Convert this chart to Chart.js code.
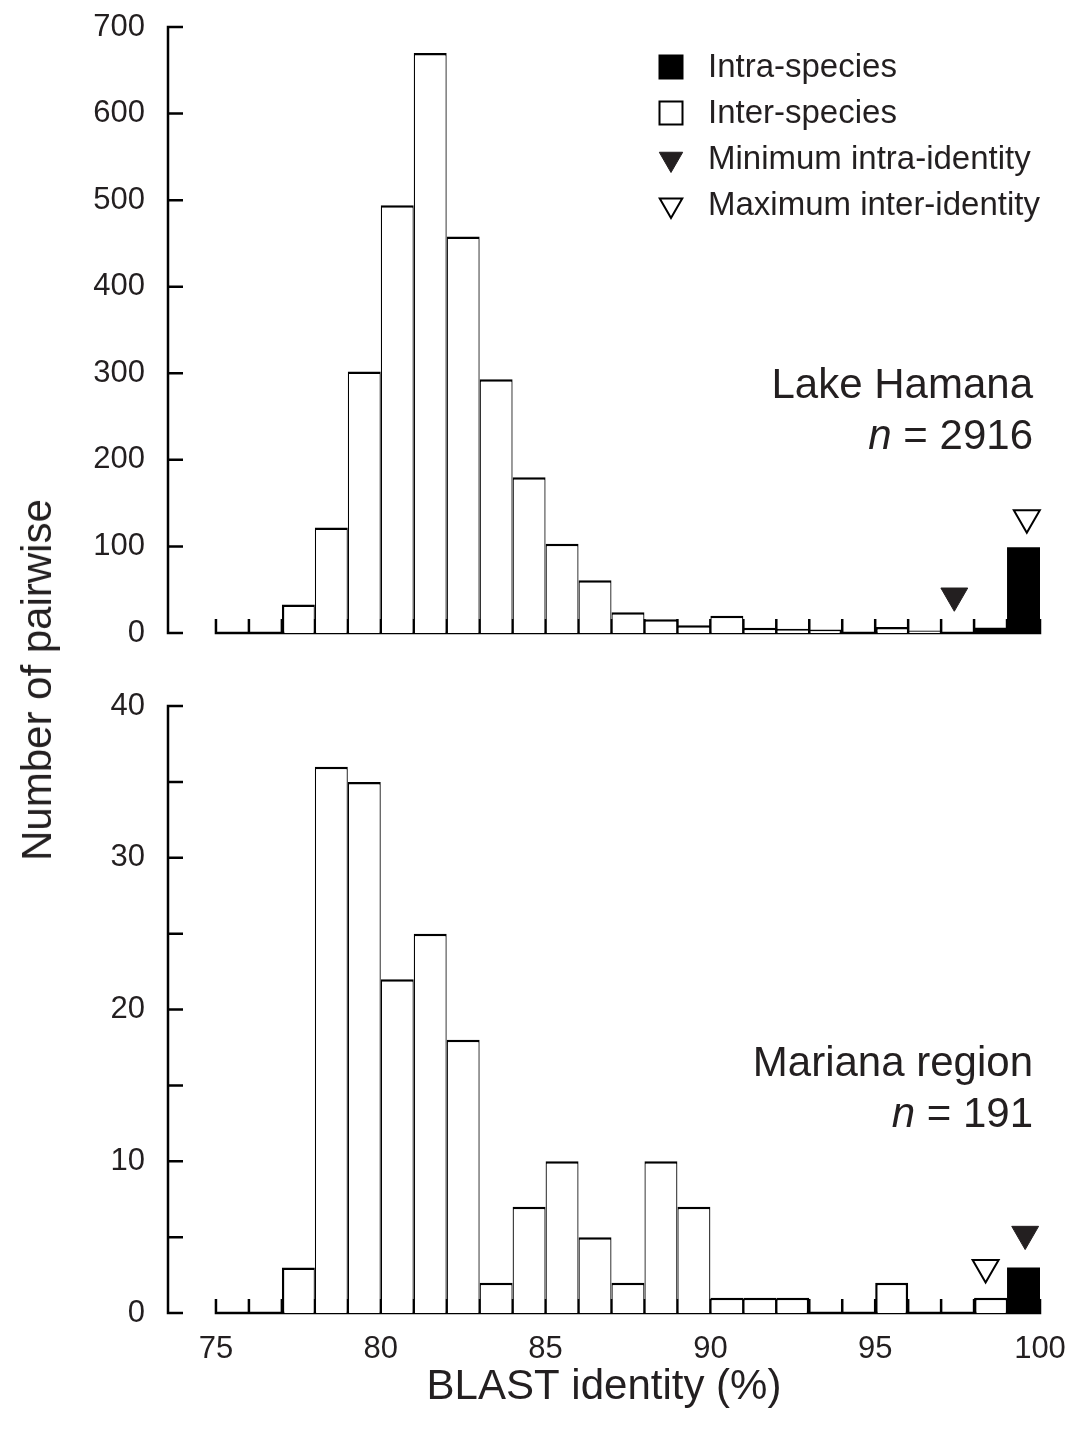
<!DOCTYPE html>
<html>
<head>
<meta charset="utf-8">
<title>BLAST identity histograms</title>
<script src="https://cdn.jsdelivr.net/npm/chart.js@4.4.1/dist/chart.umd.min.js"></script>
<style>
  html, body { margin: 0; padding: 0; background: #fff; }
  #wrap { position: relative; width: 1070px; height: 1439px; overflow: hidden; }
  .panel { position: absolute; left: 0; width: 1070px; }
  #top-panel { top: 0; height: 680px; }
  #bottom-panel { top: 680px; height: 759px; }
  #y-title {
    position: absolute; left: 37px; top: 680px;
    transform: translate(-50%, -50%) rotate(-90deg);
    font: 42px 'Liberation Sans', Arial, sans-serif; line-height: 1;
    color: #231f20; white-space: nowrap;
  }
</style>
</head>
<body>
<div id="wrap">
  <div class="panel" id="top-panel"><canvas id="hamana-chart"></canvas></div>
  <div class="panel" id="bottom-panel"><canvas id="mariana-chart"></canvas></div>
  <div id="y-title">Number of pairwise</div>
</div>
<script>
const FONT = "'Liberation Sans', Arial, Helvetica, sans-serif";
const INK = '#231f20';

// 1% identity bins, keyed by lower edge
const binStarts = [75, 76, 77, 78, 79, 80, 81, 82, 83, 84, 85, 86, 87, 88, 89, 90, 91, 92, 93, 94, 95, 96, 97, 98, 99];
const binWidth = 1;
const xTickValues = [75, 80, 85, 90, 95, 100];

// Lake Hamana
const hamanaInter = [0, 0, 33, 122, 302, 494, 670, 458, 293, 180, 103, 61, 24, 16, 9, 20, 6, 5, 4, 0, 7, 3, 0, 0, 0];
const hamanaIntra = [0, 0, 0, 0, 0, 0, 0, 0, 0, 0, 0, 0, 0, 0, 0, 0, 0, 0, 0, 0, 0, 0, 1, 6, 99];
const hamanaMinIntra = [97.4, 43];   // [identity, marker height]
const hamanaMaxInter = [99.6, 133];
const hamanaYTicks = [0, 100, 200, 300, 400, 500, 600, 700];
const hamanaYLabels = [0, 100, 200, 300, 400, 500, 600, 700];
const hamanaN = 2916;

// Mariana region
const marianaInter = [0, 0, 3, 36, 35, 22, 25, 18, 2, 7, 10, 5, 2, 10, 7, 1, 1, 1, 0, 0, 2, 0, 0, 1, 0];
const marianaIntra = [0, 0, 0, 0, 0, 0, 0, 0, 0, 0, 0, 0, 0, 0, 0, 0, 0, 0, 0, 0, 0, 0, 0, 0, 3];
const marianaMinIntra = [99.55, 5.2];
const marianaMaxInter = [98.35, 3.0];
const marianaYTicks = [0, 5, 10, 15, 20, 25, 30, 35, 40];
const marianaYLabels = [0, 10, 20, 30, 40];
const marianaN = 191;

const legendLabels = ['Intra-species', 'Inter-species', 'Minimum intra-identity', 'Maximum inter-identity'];

// the y axis stands a little to the left of the first bin
const xAxisStart = 73.545;
const LINE = 2.5;

const toBars = values => binStarts.map((b, i) => ({ x: b + binWidth / 2, y: values[i] }));

// shared edges get half a line from each neighbour, outer edges a full line
const edgeWidth = (values, other) => (c) => {
  const i = c.dataIndex;
  const filled = j => ((values[j] || 0) + (other[j] || 0)) > 0;
  return { top: LINE, bottom: 0, left: filled(i - 1) ? LINE / 2 : LINE, right: filled(i + 1) ? LINE / 2 : LINE };
};

// axis lines drawn by hand: inward ticks on y, a tick at every bin edge on the baseline
const frame = {
  id: 'frame',
  beforeDatasetsDraw(chart) {
    const { ctx, chartArea, scales: { x, y } } = chart;
    const yBase = y.getPixelForValue(0);
    const yTop = y.getPixelForValue(y.max);
    const ax = chartArea.left;
    const edges = binStarts.concat(binStarts[binStarts.length - 1] + binWidth);
    ctx.save();
    ctx.strokeStyle = '#000';
    ctx.lineWidth = LINE;
    ctx.beginPath();
    ctx.moveTo(ax, yTop - LINE / 2);
    ctx.lineTo(ax, yBase + LINE / 2);
    y.ticks.forEach(t => {
      const py = y.getPixelForValue(t.value);
      ctx.moveTo(ax - LINE / 2, py);
      ctx.lineTo(ax + 15, py);
    });
    const x0 = x.getPixelForValue(edges[0]);
    const x1 = x.getPixelForValue(edges[edges.length - 1]);
    ctx.moveTo(x0 - LINE / 2, yBase);
    ctx.lineTo(x1 + LINE / 2, yBase);
    edges.forEach(e => {
      const px = x.getPixelForValue(e);
      ctx.moveTo(px, yBase);
      ctx.lineTo(px, yBase - 14);
    });
    ctx.stroke();
    ctx.restore();
  }
};

const siteLabel = {
  id: 'siteLabel',
  afterDraw(chart, args, opts) {
    const { ctx, chartArea, scales: { x } } = chart;
    const right = x.getPixelForValue(100) - 7;
    const base = chartArea.top + opts.offset;
    ctx.save();
    ctx.fillStyle = INK;
    ctx.textAlign = 'right';
    ctx.textBaseline = 'alphabetic';
    ctx.font = `42px ${FONT}`;
    ctx.fillText(opts.name, right, base);
    const rest = ' = ' + opts.n;
    ctx.fillText(rest, right, base + 51);
    const w = ctx.measureText(rest).width;
    ctx.font = `italic 42px ${FONT}`;
    ctx.fillText('n', right - w, base + 51);
    ctx.restore();
  }
};

const keyBox = {
  id: 'keyBox',
  afterDraw(chart) {
    const { ctx } = chart;
    const mx = 671, tx = 708;
    const rows = [67, 113, 159, 205];
    ctx.save();
    ctx.lineWidth = 2;
    ctx.strokeStyle = '#000';
    // filled / open squares
    ctx.fillStyle = '#000';
    ctx.fillRect(mx - 12.5, rows[0] - 12.5, 25, 25);
    ctx.fillStyle = '#fff';
    ctx.fillRect(mx - 11.5, rows[1] - 11.5, 23, 23);
    ctx.strokeRect(mx - 11.5, rows[1] - 11.5, 23, 23);
    // triangles
    ctx.fillStyle = INK;
    ctx.strokeStyle = INK;
    ctx.lineWidth = 1;
    Chart.helpers.drawPoint(ctx, { pointStyle: 'triangle', rotation: 180, radius: 13.5, borderWidth: 1 }, mx, rows[2]);
    ctx.fillStyle = '#fff';
    ctx.strokeStyle = '#000';
    ctx.lineWidth = 2;
    Chart.helpers.drawPoint(ctx, { pointStyle: 'triangle', rotation: 180, radius: 13, borderWidth: 2 }, mx, rows[3]);
    ctx.fillStyle = INK;
    ctx.font = `33px ${FONT}`;
    ctx.textAlign = 'left';
    ctx.textBaseline = 'middle';
    legendLabels.forEach((label, i) => ctx.fillText(label, tx, rows[i] + 1));
    ctx.restore();
  }
};

function panelConfig(p) {
  const yMax = p.yTicks[p.yTicks.length - 1];
  const x = {
    type: 'linear',
    min: xAxisStart,
    max: 100,
    offset: false,
    stacked: true,
    display: p.showX,
    grid: { display: false, drawTicks: false },
    border: { display: false },
    afterBuildTicks: s => { s.ticks = xTickValues.map(v => ({ value: v })); },
    ticks: { font: { family: FONT, size: 31 }, color: INK, padding: 18, maxRotation: 0, autoSkip: false }
  };
  if (p.showX) {
    x.title = {
      display: true,
      text: 'BLAST identity (%)',
      color: INK,
      font: { family: FONT, size: 42 },
      padding: { top: 0, bottom: 26 }
    };
    x.afterFit = s => {
      s.height = 126;
      s.paddingLeft = 0;
      s.paddingRight = 0;
    };
  }
  const plugins = [frame, siteLabel];
  if (p.showLegend) plugins.push(keyBox);

  return {
    type: 'bar',
    data: {
      datasets: [
        {
          label: 'Minimum intra-identity',
          type: 'scatter',
          data: [{ x: p.minIntra[0], y: p.minIntra[1] }],
          pointStyle: 'triangle',
          pointRotation: 180,
          pointRadius: 15.5,
          pointBackgroundColor: INK,
          pointBorderColor: INK,
          pointBorderWidth: 1,
          clip: false,
          order: 0
        },
        {
          label: 'Maximum inter-identity',
          type: 'scatter',
          data: [{ x: p.maxInter[0], y: p.maxInter[1] }],
          pointStyle: 'triangle',
          pointRotation: 180,
          pointRadius: 15,
          pointBackgroundColor: '#fff',
          pointBorderColor: '#000',
          pointBorderWidth: 2,
          clip: false,
          order: 0
        },
        {
          label: 'Inter-species',
          data: toBars(p.inter),
          backgroundColor: '#fff',
          borderColor: '#000',
          borderWidth: edgeWidth(p.inter, p.intra),
          borderSkipped: false,
          inflateAmount: 0,
          barPercentage: 1,
          categoryPercentage: 1,
          order: 1
        },
        {
          label: 'Intra-species',
          data: toBars(p.intra),
          backgroundColor: '#000',
          borderColor: '#000',
          borderWidth: 0,
          inflateAmount: 0,
          barPercentage: 1,
          categoryPercentage: 1,
          order: 2
        }
      ]
    },
    options: {
      responsive: true,
      maintainAspectRatio: false,
      animation: false,
      events: [],
      layout: { padding: p.padding },
      plugins: {
        legend: { display: false },
        tooltip: { enabled: false },
        siteLabel: { name: p.site, n: p.n, offset: p.labelOffset }
      },
      scales: {
        x,
        y: {
          min: 0,
          max: yMax,
          stacked: true,
          grid: { display: false, drawTicks: false },
          border: { display: false },
          afterBuildTicks: s => { s.ticks = p.yTicks.map(v => ({ value: v })); },
          afterFit: s => {
            s.width = 168;
            s.paddingTop = 0;
            s.paddingBottom = 0;
          },
          ticks: {
            font: { family: FONT, size: 31 },
            color: INK,
            padding: 23,
            callback: v => (p.yLabels.includes(v) ? v : '')
          }
        }
      }
    },
    plugins
  };
}

new Chart(document.getElementById('hamana-chart'), panelConfig({
  inter: hamanaInter,
  intra: hamanaIntra,
  minIntra: hamanaMinIntra,
  maxInter: hamanaMaxInter,
  yTicks: hamanaYTicks,
  yLabels: hamanaYLabels,
  site: 'Lake Hamana',
  n: hamanaN,
  labelOffset: 371,
  showX: false,
  showLegend: true,
  padding: { top: 27, right: 30, bottom: 47, left: 0 }
}));

new Chart(document.getElementById('mariana-chart'), panelConfig({
  inter: marianaInter,
  intra: marianaIntra,
  minIntra: marianaMinIntra,
  maxInter: marianaMaxInter,
  yTicks: marianaYTicks,
  yLabels: marianaYLabels,
  site: 'Mariana region',
  n: marianaN,
  labelOffset: 370,
  showX: true,
  showLegend: false,
  padding: { top: 26, right: 30, bottom: 0, left: 0 }
}));
</script>
</body>
</html>
